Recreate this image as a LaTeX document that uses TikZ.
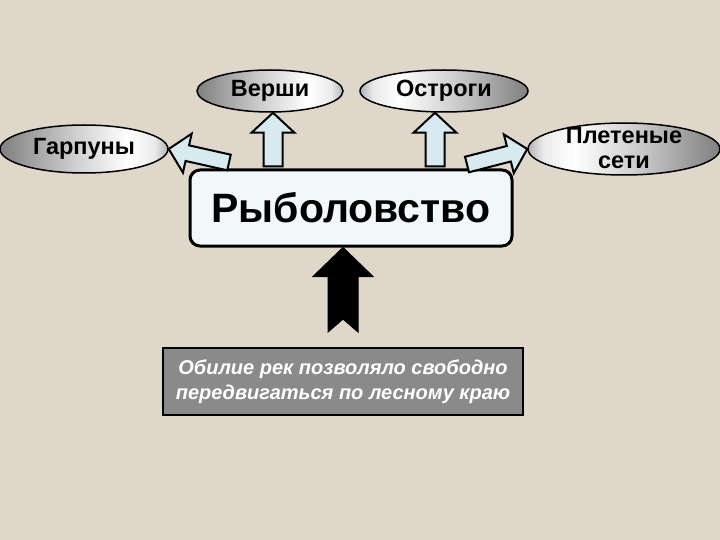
\documentclass[tikz,border=0pt]{standalone}
\usepackage{fontspec}
\setmainfont{Liberation Sans}
\usetikzlibrary{shapes.geometric,calc}

\definecolor{paper}{RGB}{223,215,202}
\definecolor{shaftblue}{RGB}{214,234,240}
\definecolor{boxwhite}{RGB}{242,247,250}
\definecolor{notegray}{RGB}{138,138,138}

% dark at the left, light towards the right
\pgfdeclarehorizontalshading{toolgrad}{100bp}{color(0bp)=(black!50); color(25bp)=(black!50);
  color(48bp)=(black!18); color(63bp)=(white); color(71bp)=(black!8); color(75bp)=(black!30); color(100bp)=(black!30)}

\tikzset{
  tool/.style={ellipse, draw=black, line width=1.5pt, inner sep=0pt, shade, shading=toolgrad,
               font=\fontsize{23.5}{25}\selectfont\bfseries},
  toolflip/.style={tool, shading angle=180},
  tooltext/.style={align=center, inner sep=0pt, font=\fontsize{23.5}{25}\selectfont\bfseries},
  mainbox/.style={draw=black, line width=3pt, rounded corners=10pt, fill=boxwhite,
                  minimum width=322pt, minimum height=76pt, font=\fontsize{41}{44}\selectfont\bfseries},
  notebox/.style={draw=black, line width=2pt, fill=notegray, text=white, align=center,
                  minimum width=360pt, minimum height=67pt, font=\fontsize{20}{25}\selectfont\bfseries\itshape},
  along/.style={shift={(\p1)},rotate=\n1}, % turn into the direction of the arrow
  hollow/.style={draw=black, line width=2pt, fill=shaftblue, line join=miter},
  blackarrow/.style={draw=black, line width=1pt, fill=black, line join=miter},
}

% block arrow: style, from, to, half shaft, half head, head length, notch
\newcommand{\blockarrow}[7]{%
  \draw[#1] let \p1=(#2), \p2=(#3), \n1={atan2(\y2-\y1,\x2-\x1)}, \n2={veclen(\x2-\x1,\y2-\y1)} in
    ([along]#7,0pt) -- ([along]0pt,#4) -- ([along]{\n2*1pt-#6},#4)
    -- ([along]{\n2*1pt-#6},#5) -- ([along]{\n2*1pt},0pt)
    -- ([along]{\n2*1pt-#6},-#5) -- ([along]{\n2*1pt-#6},-#4)
    -- ([along]0pt,-#4) -- cycle;
}

\begin{document}
\begin{tikzpicture}[x=1pt,y=-1pt]
\useasboundingbox (0,0) rectangle (720,540);
\fill[paper] (0,0) rectangle (720,540);

% the tools
\node[tool, minimum width=146pt, minimum height=42pt] (vershi) at (270,91) {Верши};
\node[toolflip, minimum width=168pt, minimum height=42pt] (ostrogi) at (444,91) {Остроги};
\node[tool, minimum width=168pt, minimum height=48pt] (garpuny) at (84,149) {Гарпуны};
\node[toolflip, minimum width=192pt, minimum height=52pt] (seti) at (624,149) {};
\node[tooltext] (setitext) at (624,148) {Плетеные\\сети};

% the activity and the reason
\node[mainbox] (box) at (351,208) {Рыболовство};
\node[notebox] (note) at (343,381.5) {Обилие рек позволяло свободно\\передвигаться по лесному краю};

% tails of the arrows
\coordinate (vtail) at ($(box.north)+(-78,-2)$);
\coordinate (otail) at ($(box.north)+(84,-2)$);
\coordinate (gtail) at ($(box.north)+(-122,-6)$);
\coordinate (stail) at ($(box.north)+(116,-4)$);
\coordinate (ntail) at ($(note.north)+(0,-15)$);

\blockarrow{hollow}{vtail}{vtail |- vershi.south}{9.5pt}{21.5pt}{20pt}{0pt}
\blockarrow{hollow}{otail}{otail |- ostrogi.south}{9.5pt}{21.5pt}{20pt}{0pt}
\blockarrow{hollow}{gtail}{garpuny.east}{8pt}{20pt}{19pt}{0pt}
\blockarrow{hollow}{stail}{seti.west}{8pt}{20pt}{19pt}{0pt}
\blockarrow{blackarrow}{ntail}{ntail |- box.south}{15pt}{30pt}{29pt}{13pt}
\end{tikzpicture}
\end{document}
